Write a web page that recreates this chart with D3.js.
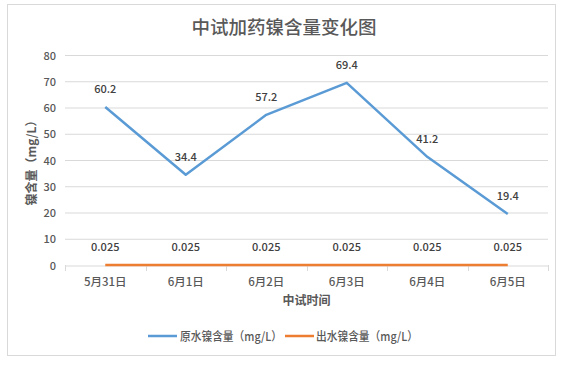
<!DOCTYPE html>
<html><head><meta charset="utf-8">
<script src="https://cdn.jsdelivr.net/npm/d3@7"></script>
<style>body{margin:0;background:#fff}svg{display:block}text{font-family:"Noto Sans CJK SC","Noto Sans",sans-serif}</style>
</head><body>
<svg id="c" width="567" height="366"></svg>
<script>
const categories = ["5月31日","6月1日","6月2日","6月3日","6月4日","6月5日"];
const rawNi = [60.2, 34.4, 57.2, 69.4, 41.2, 19.4];
const outNi = [0.025, 0.025, 0.025, 0.025, 0.025, 0.025];
const yTicks = [0,10,20,30,40,50,60,70,80];
const seriesNames = ["原水镍含量（mg/L）","出水镍含量（mg/L）"];
const colors = ["#5B9BD5","#ED7D31"];

const svg = d3.select("#c");
svg.append("rect").attr("x",7.5).attr("y",4.5).attr("width",548).attr("height",351)
  .attr("fill","#fff").attr("stroke","#d9d9d9");

const L=65,R=548,T=55,B=265;
const x = d3.scaleBand().domain(categories).range([L,R]);
const y = d3.scaleLinear().domain([0,80]).range([B,T]);

// grid
svg.append("g").selectAll("line").data(yTicks.filter(d=>d>0)).join("line")
  .attr("x1",L).attr("x2",R).attr("y1",d=>y(d)+0.5).attr("y2",d=>y(d)+0.5)
  .attr("stroke","#d9d9d9").attr("stroke-width",1);

// y axis labels
const ya = svg.append("g").attr("transform",`translate(${L},0.5)`)
  .call(d3.axisLeft(y).tickValues(yTicks).tickSize(0).tickPadding(9));
ya.select(".domain").remove();
ya.selectAll("text").attr("font-size",11).attr("font-weight",500).attr("fill","#595959").style("font-family",'"Noto Sans CJK SC",sans-serif');

// x axis
const xa = svg.append("g").attr("transform",`translate(0,${B+0.5})`)
  .call(d3.axisBottom(x).tickSize(0).tickPadding(12));
xa.select(".domain").attr("stroke","#d9d9d9");
xa.selectAll("text").attr("font-size",11.5).attr("font-weight",500).attr("fill","#595959").style("font-family",'"Noto Sans CJK SC",sans-serif');
const bounds = categories.map(c=>x(c)).concat([R]);
svg.append("g").selectAll("line").data(bounds).join("line")
  .attr("x1",d=>Math.round(d)+0.5).attr("x2",d=>Math.round(d)+0.5).attr("y1",B).attr("y2",B+6)
  .attr("stroke","#d9d9d9");

const cx = c=>x(c)+x.bandwidth()/2;
const line = d3.line().x((d,i)=>cx(categories[i])).y(d=>y(d));
[rawNi,outNi].forEach((s,k)=>{
  svg.append("path").datum(s).attr("d",line).attr("fill","none")
    .attr("stroke",colors[k]).attr("stroke-width",2.5).attr("stroke-linejoin","round");
});
[rawNi,outNi].forEach((s,k)=>{
  svg.append("g").selectAll("text").data(s).join("text")
    .attr("x",(d,i)=>cx(categories[i])).attr("y",d=>y(d)-14)
    .attr("text-anchor","middle").attr("font-size",11).attr("font-weight",500).attr("fill","#404040")
    .text(d=>d);
});

// title
svg.append("text").attr("x",284).attr("y",34).attr("text-anchor","middle")
  .attr("font-size",18.5).attr("font-weight",500).attr("fill","#595959").text("中试加药镍含量变化图");
// axis titles
svg.append("text").attr("transform",`translate(36,${(T+B)/2}) rotate(-90)`).attr("text-anchor","middle")
  .attr("font-size",12).attr("font-weight","bold").attr("fill","#595959").text("镍含量（mg/L）");
svg.append("text").attr("x",(L+R)/2).attr("y",305).attr("text-anchor","middle")
  .attr("font-size",12).attr("font-weight","bold").attr("fill","#595959").text("中试时间");

// legend
const lg = [{x0:148,tx:180},{x0:285,tx:316}];
seriesNames.forEach((n,k)=>{
  svg.append("line").attr("x1",lg[k].x0).attr("x2",lg[k].x0+29).attr("y1",336).attr("y2",336)
    .attr("stroke",colors[k]).attr("stroke-width",2.5);
  svg.append("text").attr("x",lg[k].tx).attr("y",340.5).attr("font-size",12).attr("font-weight",500)
    .attr("textLength",102).attr("lengthAdjust","spacingAndGlyphs").attr("fill","#595959").text(n);
});
</script>
</body></html>
